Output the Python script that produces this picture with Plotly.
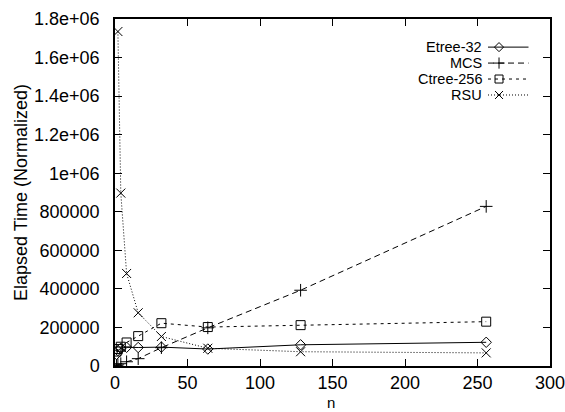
import plotly.graph_objects as go

# ---- data ----
n_main = [1, 2, 4, 8, 16, 32, 64, 128, 256]
etree32 = [60000, 80000, 92000, 97000, 96000, 98000, 88000, 110000, 123000]
mcs = [3000, 6000, 12000, 22000, 38000, 95000, 198000, 393000, 828000]
ctree256 = [75000, 88000, 100000, 122000, 155000, 222000, 202000, 212000, 230000]
n_rsu = [2, 4, 8, 16, 32, 64, 128, 256]
rsu = [1735000, 897000, 480000, 276000, 153000, 92000, 74000, 68000]

series_names = ["Etree-32", "MCS", "Ctree-256", "RSU"]
x_ticks = [0, 50, 100, 150, 200, 250, 300]
y_tickvals = [0, 200000, 400000, 600000, 800000, 1000000, 1200000, 1400000, 1600000, 1800000]
y_ticktext = ["0", "200000", "400000", "600000", "800000", "1e+06", "1.2e+06", "1.4e+06", "1.6e+06", "1.8e+06"]
x_title = "n"
y_title = "Elapsed Time (Normalized)"

# ---- styles ----
FONT = "Liberation Sans, Arial, Helvetica, sans-serif"
styles = [
    dict(dash="solid", symbol="diamond-open", size=8),
    dict(dash="6px,4px", symbol="cross-thin", size=9),
    dict(dash="3px,4px", symbol="square-open", size=9),
    dict(dash="1px,2px", symbol="x-thin", size=9),
]
xs = [n_main, n_main, n_main, n_rsu]
ys = [etree32, mcs, ctree256, rsu]

fig = go.Figure()
for name, x, y, st in zip(series_names, xs, ys, styles):
    fig.add_trace(go.Scatter(
        x=x, y=y, name=name, mode="lines+markers", showlegend=False,
        line=dict(color="black", width=1, dash=st["dash"]),
        marker=dict(symbol=st["symbol"], size=st["size"], color="black",
                    line=dict(color="black", width=1)),
    ))

# ---- gnuplot-style key (text right, sample on the right) ----
key_rows = [0.919, 0.873, 0.827, 0.781]
for name, st, ry in zip(series_names, styles, key_rows):
    fig.add_trace(go.Scatter(
        x=[0.8575, 0.9506], y=[ry, ry], xaxis="x2", yaxis="y2", mode="lines",
        showlegend=False, hoverinfo="skip",
        line=dict(color="black", width=1, dash=st["dash"]),
    ))
    fig.add_trace(go.Scatter(
        x=[0.8828], y=[ry], xaxis="x2", yaxis="y2", mode="markers",
        showlegend=False, hoverinfo="skip",
        marker=dict(symbol=st["symbol"], size=st["size"] - 1, color="black",
                    line=dict(color="black", width=1)),
    ))
    fig.add_annotation(x=0.8485, y=ry, xref="paper", yref="paper", text=name,
                       showarrow=False, xanchor="right", yanchor="middle",
                       font=dict(family=FONT, size=14.5, color="black"))

# x-axis title placed as an annotation so it can sit right under the tick labels
fig.add_annotation(x=0.497, y=0, xref="paper", yref="paper", text=x_title,
                   showarrow=False, xanchor="center", yanchor="bottom", yshift=-46,
                   borderpad=0, font=dict(family=FONT, size=15, color="black"))

axis_common = dict(
    showgrid=False, zeroline=False, showline=True, linecolor="black", linewidth=1.5,
    mirror="ticks", ticks="inside", ticklen=7, tickcolor="black", tickwidth=1,
    tickfont=dict(family=FONT, size=18, color="black"), automargin=False,
    ticklabeloverflow="allow",
)

fig.update_layout(
    width=565, height=412,
    margin=dict(l=115, r=15, t=19, b=46),
    paper_bgcolor="white", plot_bgcolor="white",
    showlegend=False,
    xaxis=dict(range=[0, 300], tickvals=x_ticks, ticklabelstandoff=0, **axis_common),
    yaxis=dict(range=[0, 1800000], tickvals=y_tickvals, ticktext=y_ticktext, ticklabelstandoff=10,
               title=dict(text=y_title, font=dict(family=FONT, size=18, color="black"), standoff=2),
               **axis_common),
    xaxis2=dict(overlaying="x", range=[0, 1], visible=False, anchor="y2"),
    yaxis2=dict(overlaying="y", range=[0, 1], visible=False, anchor="x2"),
)

fig.write_html(
    "out.html",
    config={"displayModeBar": False},
    post_script="document.body.style.margin='0';document.body.style.padding='0';"
                "document.body.style.overflow='hidden';",
)
